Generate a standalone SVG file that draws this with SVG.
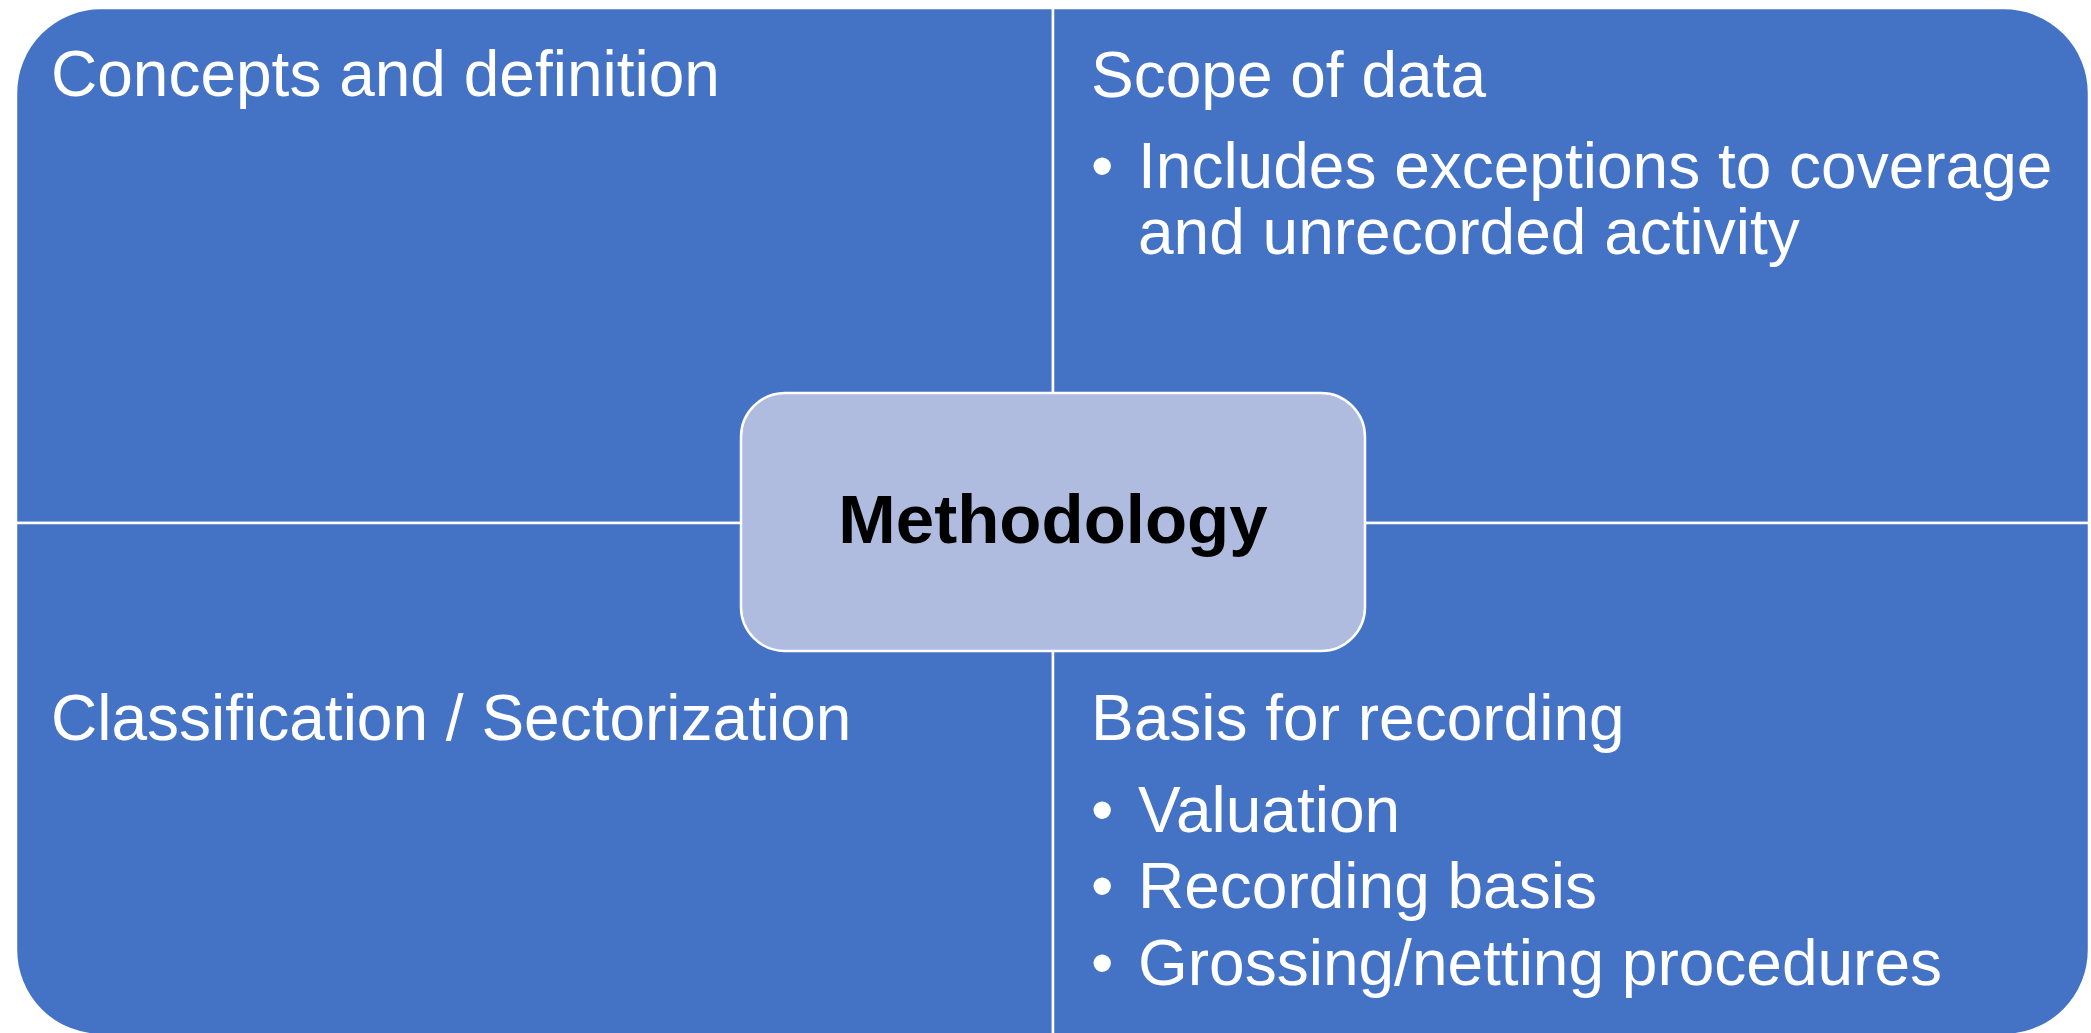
<svg xmlns="http://www.w3.org/2000/svg" width="2091" height="1033" viewBox="0 0 2091 1033">
<style>
.q{fill:#4472C4;stroke:#FFFFFF;stroke-width:2.5}
.t{font-family:"Liberation Sans",Arial,sans-serif;font-size:64px;fill:#FFFFFF}
.c{font-family:"Liberation Sans",Arial,sans-serif;font-size:69px;font-weight:bold;fill:#000000}
</style>
<rect width="2091" height="1033" fill="#FFFFFF"/>
<g id="concepts">
<path class="q" d="M16,523 L16,93 A85,85 0 0 1 101,8 L1053,8 L1053,523 Z"/>
<text class="t" x="51" y="96">Concepts and definition</text>
</g>
<g id="scope">
<path class="q" d="M1053,8 L2004,8 A85,85 0 0 1 2089,93 L2089,523 L1053,523 Z"/>
<text class="t" x="1091" y="97">Scope of data</text>
<text class="t" x="1091" y="188">•</text>
<text class="t" x="1138" y="188">Includes exceptions to coverage</text>
<text class="t" x="1138" y="254">and unrecorded activity</text>
</g>
<g id="classification">
<path class="q" d="M16,523 L1053,523 L1053,1035 L101,1035 A85,85 0 0 1 16,950 Z"/>
<text class="t" x="51" y="740">Classification / Sectorization</text>
</g>
<g id="basis">
<path class="q" d="M1053,523 L2089,523 L2089,950 A85,85 0 0 1 2004,1035 L1053,1035 Z"/>
<text class="t" x="1091" y="740">Basis for recording</text>
<text class="t" x="1091" y="832">•</text>
<text class="t" x="1138" y="832">Valuation</text>
<text class="t" x="1091" y="908">•</text>
<text class="t" x="1138" y="908">Recording basis</text>
<text class="t" x="1091" y="985">•</text>
<text class="t" x="1138" y="985">Grossing/netting procedures</text>
</g>
<g id="methodology">
<rect x="741" y="393" width="624" height="258" rx="44" ry="44" fill="#AFBCDF" stroke="#FFFFFF" stroke-width="2.5"/>
<text class="c" x="1053" y="543" text-anchor="middle">Methodology</text>
</g>
<g id="connectors"></g>
</svg>
